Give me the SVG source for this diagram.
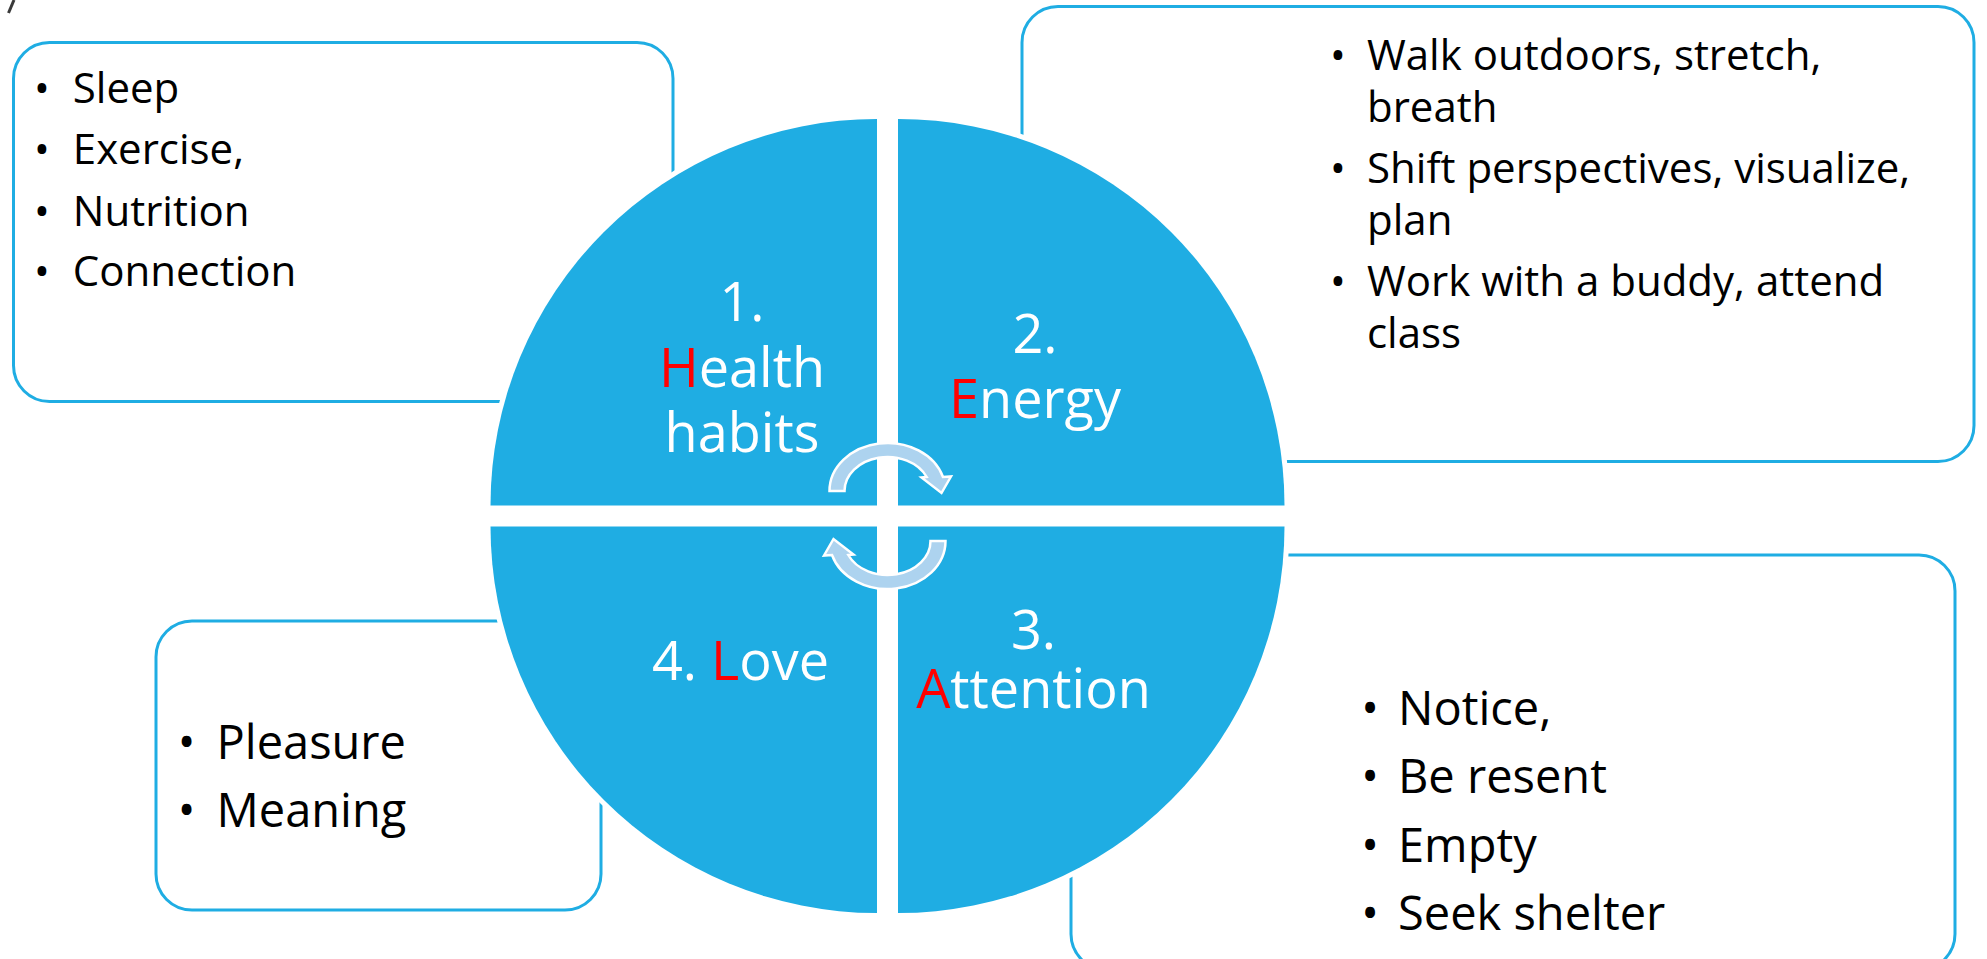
<svg xmlns="http://www.w3.org/2000/svg" width="1987" height="959" viewBox="0 0 1987 959">
  <defs>
    <style>
      .box { fill: #ffffff; stroke: #1FADE3; stroke-width: 3; }
      .quad { fill: #1FADE3; stroke: #ffffff; stroke-width: 10; paint-order: stroke; }
      .cyc { fill: #ADD3EF; stroke: #ffffff; stroke-width: 2.5; stroke-linejoin: miter; }
      .item { font-family: "Open Sans", "Noto Sans", "Liberation Sans", sans-serif; fill: #000000; }
      .s42 { font-size: 42px; }
      .s47 { font-size: 47px; }
      .lbl { font-family: "Open Sans", "Noto Sans", "Liberation Sans", sans-serif; font-size: 54px; font-weight: 400; fill: #ffffff; text-anchor: middle; }
      .red { fill: #FF0000; }
      .dot { text-anchor: middle; }
    </style>
  </defs>

  <rect width="1987" height="959" fill="#ffffff"/>

  <!-- stray mark at the top-left corner -->
  <path d="M14 0 L8.5 13" stroke="#3a3a3a" stroke-width="3" fill="none"/>

  <!-- detail boxes (drawn first, the wheel sits on top) -->
  <g id="box-health">
    <rect class="box" x="13.5" y="42.5" width="659.5" height="359" rx="36" ry="36"/>
    <g class="item s42">
      <text class="dot" x="42" y="102.7">•</text><text x="72.8" y="102.7">Sleep</text>
      <text class="dot" x="42" y="164">•</text><text x="72.8" y="164">Exercise,</text>
      <text class="dot" x="42" y="225.7">•</text><text x="72.8" y="225.7">Nutrition</text>
      <text class="dot" x="42" y="286">•</text><text x="72.8" y="286">Connection</text>
    </g>
  </g>

  <g id="box-energy">
    <rect class="box" x="1022" y="6.5" width="952" height="455" rx="36" ry="36"/>
    <g class="item s42">
      <text class="dot" x="1338" y="70">•</text>
      <text x="1367" y="70">Walk outdoors, stretch,<tspan x="1367" y="121.7">breath</tspan></text>
      <text class="dot" x="1338" y="182.7">•</text>
      <text x="1367" y="182.7">Shift perspectives, visualize,<tspan x="1367" y="235">plan</tspan></text>
      <text class="dot" x="1338" y="296">•</text>
      <text x="1367" y="296">Work with a buddy, attend<tspan x="1367" y="347.7">class</tspan></text>
    </g>
  </g>

  <g id="box-attention">
    <rect class="box" x="1071" y="555" width="884" height="415" rx="36" ry="36"/>
    <g class="item s47">
      <text class="dot" x="1370" y="725">•</text><text x="1398" y="725">Notice,</text>
      <text class="dot" x="1370" y="793.3">•</text><text x="1398" y="793.3">Be resent</text>
      <text class="dot" x="1370" y="862.3">•</text><text x="1398" y="862.3">Empty</text>
      <text class="dot" x="1370" y="930">•</text><text x="1398" y="930">Seek shelter</text>
    </g>
  </g>

  <g id="box-love">
    <rect class="box" x="156" y="621" width="445" height="289" rx="36" ry="36"/>
    <g class="item s47">
      <text class="dot" x="186.6" y="759">•</text><text x="216.5" y="759">Pleasure</text>
      <text class="dot" x="186.6" y="827.3">•</text><text x="216.5" y="827.3">Meaning</text>
    </g>
  </g>

  <!-- wheel quadrants -->
  <g id="q1-health">
    <path class="quad" d="M877 505.5 V119 A386.5 386.5 0 0 0 490.5 505.5 Z"/>
    <text class="lbl" x="742" y="321">1.<tspan x="742" y="387"><tspan class="red">H</tspan>ealth</tspan><tspan x="742" y="452">habits</tspan></text>
  </g>

  <g id="q2-energy">
    <path class="quad" d="M898 505.5 V119 A386.5 386.5 0 0 1 1284.5 505.5 Z"/>
    <text class="lbl" x="1035" y="353">2.<tspan x="1035" y="418"><tspan class="red">E</tspan>nergy</tspan></text>
  </g>

  <g id="q3-attention">
    <path class="quad" d="M898 526.5 H1284.5 A386.5 386.5 0 0 1 898 913 Z"/>
    <text class="lbl" x="1033.5" y="649">3.<tspan x="1033.5" y="708"><tspan class="red">A</tspan>ttention</tspan></text>
  </g>

  <g id="q4-love">
    <path class="quad" d="M877 526.5 V913 A386.5 386.5 0 0 1 490.5 526.5 Z"/>
    <text class="lbl" x="740.5" y="680">4. <tspan class="red">L</tspan>ove</text>
  </g>

  <!-- cycle arrows in the centre of the wheel -->
  <g id="connectors">
    <path id="cycle-top" class="cyc" d="M829.5 491 A58 48 0 0 1 943 477 L951 476.5 L941.5 493 L921.5 477.5 L926.7 477 A43 34 0 0 0 844.5 491 Z"/>
    <path id="cycle-bottom" class="cyc" transform="rotate(180 887.5 516)" d="M829.5 491 A58 48 0 0 1 943 477 L951 476.5 L941.5 493 L921.5 477.5 L926.7 477 A43 34 0 0 0 844.5 491 Z"/>
  </g>
</svg>
